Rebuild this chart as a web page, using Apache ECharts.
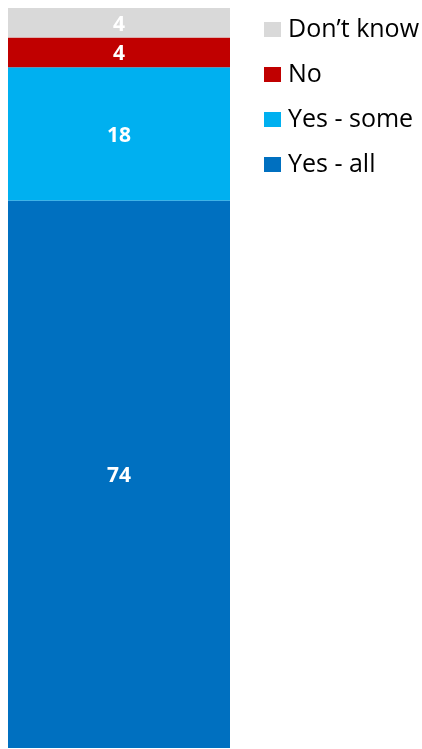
<!DOCTYPE html>
<html>
<head>
<meta charset="utf-8">
<script src="https://cdn.jsdelivr.net/npm/echarts@6/dist/echarts.min.js"></script>
<style>html,body{margin:0;padding:0;background:#fff;}#c{width:422px;height:749px;}</style>
</head>
<body>
<div id="c"></div>
<script>
var categories = ['All'];
var seriesNames = ['Yes - all', 'Yes - some', 'No', 'Don\u2019t know'];
var yesAll = [74];
var yesSome = [18];
var no = [4];
var dontKnow = [4];
var legendOrder = ['Don\u2019t know', 'No', 'Yes - some', 'Yes - all'];
var colors = ['#0070C0', '#00B0F0', '#C00000', '#D9D9D9'];
var values = [yesAll, yesSome, no, dontKnow];

var chart = echarts.init(document.getElementById('c'));
var series = seriesNames.map(function (n, i) {
  return {
    name: n,
    type: 'bar',
    stack: 'total',
    barWidth: '100%',
    data: values[i],
    itemStyle: { color: colors[i] },
    label: {
      show: true,
      position: 'inside',
      offset: [0, 2],
      color: '#fff',
      fontFamily: 'Open Sans',
      fontWeight: 'bold',
      fontSize: 21
    }
  };
});
chart.setOption({
  animation: false,
  grid: { left: 8, right: 192, top: 8, bottom: 1 },
  xAxis: { type: 'category', data: categories, show: false },
  yAxis: { type: 'value', min: 0, max: 100, show: false },
  legend: {
    data: legendOrder,
    orient: 'vertical',
    left: 264,
    top: 17,
    padding: 0,
    itemWidth: 17,
    itemHeight: 15,
    itemGap: 20,
    icon: 'rect',
    textStyle: { fontFamily: 'Open Sans', fontSize: 25, color: '#000', padding: [0, 0, 0, 2] }
  },
  series: series
});
</script>
</body>
</html>
